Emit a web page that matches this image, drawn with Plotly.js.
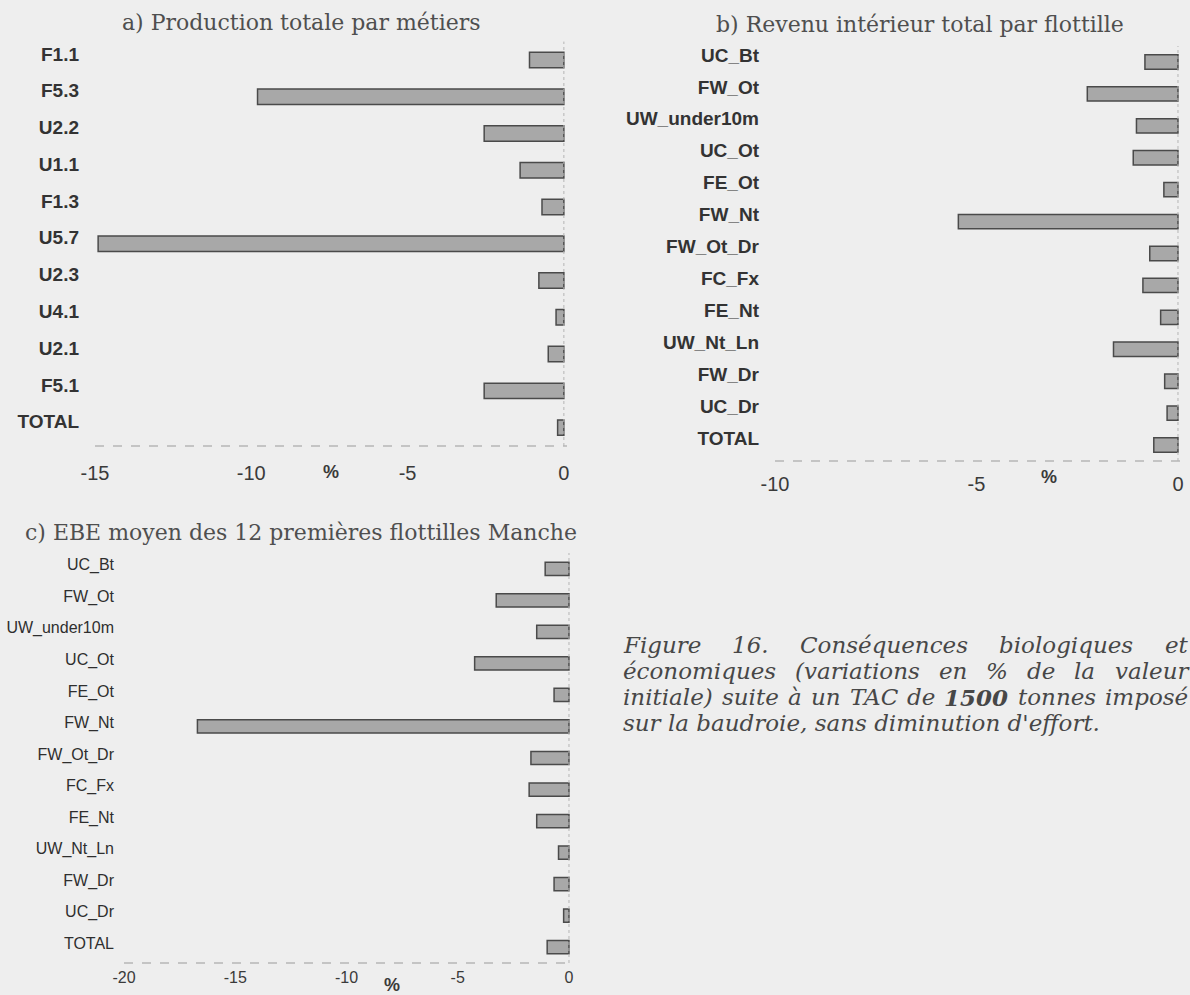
<!DOCTYPE html>
<html>
<head>
<meta charset="utf-8">
<script src="https://cdn.plot.ly/plotly-3.0.1.min.js"></script>
<style>html,body{margin:0;padding:0;background:#eeeeee;}#chart{width:1190px;height:995px;}</style>
</head>
<body>
<div id="chart"></div>
<script>
// ---- data ----
const titleA = 'a) Production totale par métiers';
const titleB = 'b) Revenu intérieur total par flottille';
const titleC = 'c) EBE moyen des 12 premières flottilles Manche';

const catA = ['F1.1','F5.3','U2.2','U1.1','F1.3','U5.7','U2.3','U4.1','U2.1','F5.1','TOTAL'];
const valA = [-1.1,-9.8,-2.55,-1.4,-0.7,-14.9,-0.8,-0.25,-0.5,-2.55,-0.2];

const catB = ['UC_Bt','FW_Ot','UW_under10m','UC_Ot','FE_Ot','FW_Nt','FW_Ot_Dr','FC_Fx','FE_Nt','UW_Nt_Ln','FW_Dr','UC_Dr','TOTAL'];
const valB = [-0.82,-2.25,-1.03,-1.11,-0.35,-5.45,-0.7,-0.87,-0.43,-1.6,-0.33,-0.27,-0.6];

const catC = ['UC_Bt','FW_Ot','UW_under10m','UC_Ot','FE_Ot','FW_Nt','FW_Ot_Dr','FC_Fx','FE_Nt','UW_Nt_Ln','FW_Dr','UC_Dr','TOTAL'];
const valC = [-1.07,-3.27,-1.45,-4.24,-0.67,-16.7,-1.71,-1.79,-1.45,-0.47,-0.67,-0.24,-0.98];

const ticksA = [-15,-10,-5,0];
const ticksB = [-10,-5,0];
const ticksC = [-20,-15,-10,-5,0];

const captionLines = [
  ['Figure','16.','Conséquences','biologiques','et'],
  ['économiques','(variations','en','%','de','la','valeur'],
  ['initiale)','suite','à','un','TAC','de','<b>1500</b>','tonnes','imposé'],
  ['sur la baudroie, sans diminution d\'effort.']
];

// ---- styling ----
const W = 1190, H = 995;
const BAR_FILL = '#a8a8a8', BAR_LINE = '#4a4a4a';
const LABEL_COLOR = '#333333', TITLE_COLOR = '#4f4f4f';
const px = v => v / W, py = v => 1 - v / H;

function barTrace(cats, vals, xa, ya, width) {
  return {
    type: 'bar', orientation: 'h', x: vals, y: cats, xaxis: xa, yaxis: ya,
    width: width, marker: {color: BAR_FILL, line: {color: BAR_LINE, width: 1.5}},
    hoverinfo: 'x+y', showlegend: false
  };
}

const data = [
  barTrace(catA, valA, 'x', 'y', 0.42),
  barTrace(catB, valB, 'x2', 'y2', 0.45),
  barTrace(catC, valC, 'x3', 'y3', 0.42)
];

const boldSans = {family: 'Liberation Sans, Arial, sans-serif', size: 19, color: LABEL_COLOR, weight: 'bold'};
const regSans = {family: 'Liberation Sans, Arial, sans-serif', size: 20, color: '#3a3a3a'};
const smallSans = {family: 'Liberation Sans, Arial, sans-serif', size: 16, color: '#2e2e2e'};
const smallTick = {family: 'Liberation Sans, Arial, sans-serif', size: 16, color: '#3a3a3a'};

function xAxis(dom, rng, ticks, font, standoff) {
  return {domain: dom, range: rng, tickvals: ticks, ticktext: ticks.map(String),
    showgrid: false, zeroline: false, showline: false, ticks: '', tickfont: font,
    ticklabelstandoff: standoff, fixedrange: true};
}
function yAxis(dom, cats, font, standoff, shift, anchor) {
  return {domain: dom, type: 'category', categoryarray: cats, range: [cats.length - 0.5, -0.5],
    showgrid: false, zeroline: false, showline: false, ticks: '', tickfont: font,
    ticklabelstandoff: standoff, ticklabelshift: shift, anchor: anchor, fixedrange: true};
}

const layout = {
  width: W, height: H,
  paper_bgcolor: '#eeeeee', plot_bgcolor: 'rgba(0,0,0,0)',
  margin: {l: 0, r: 0, t: 0, b: 0},
  showlegend: false,
  xaxis: xAxis([px(95), px(567)], [-15, 0.1], ticksA, regSans, 13),
  yaxis: yAxis([py(446), py(41.6)], catA, boldSans, 15, 6, 'x'),
  xaxis2: xAxis([px(775), px(1182)], [-10, 0.1], ticksB, regSans, 9),
  yaxis2: yAxis([py(461), py(46)], catB, boldSans, 15, 7, 'x2'),
  xaxis3: xAxis([px(124), px(571.2)], [-20, 0.1], ticksC, smallTick, 3),
  yaxis3: yAxis([py(963), py(553)], catC, smallSans, 9, 4, 'x3'),
  shapes: [],
  annotations: []
};
layout.xaxis.anchor = 'y'; layout.xaxis2.anchor = 'y2'; layout.xaxis3.anchor = 'y3';

// dashed baseline and dotted zero line for each panel
[['x','y'],['x2','y2'],['x3','y3']].forEach(([xa, ya]) => {
  layout.shapes.push({type: 'line', xref: xa + ' domain', yref: ya + ' domain', x0: 0, x1: 1, y0: 0, y1: 0,
    line: {color: '#9a9a9a', width: 1, dash: 'dash'}});
  layout.shapes.push({type: 'line', xref: xa, yref: ya + ' domain', x0: 0, x1: 0, y0: 0, y1: 1,
    line: {color: '#b5b5b5', width: 1, dash: 'dot'}});
});

// panel titles
const titleFont = {family: 'DejaVu Serif, serif', size: 22, color: TITLE_COLOR};
[[titleA, 301, 23], [titleB, 920, 25], [titleC, 301, 532]].forEach(([t, x, y]) => {
  layout.annotations.push({text: t, xref: 'paper', yref: 'paper', x: px(x), y: py(y),
    xanchor: 'center', yanchor: 'middle', showarrow: false, font: titleFont});
});

// "%" axis labels
const pctFont = {family: 'Liberation Sans, Arial, sans-serif', size: 18, color: '#3a3a3a', weight: 'bold'};
[['x','y', -7.45, 472], ['x2','y2', -3.2, 477], ['x3','y3', -7.95, 985]].forEach(([xa, ya, xv, yp]) => {
  layout.annotations.push({text: '%', xref: xa, yref: 'paper', x: xv, y: py(yp),
    xanchor: 'center', yanchor: 'middle', showarrow: false, font: pctFont});
});

// caption (justified italic text)
const capSize = 23, capLeft = 622, capRight = 1187;
const capY = [645, 671, 697, 723];
const cvs = document.createElement('canvas').getContext('2d');
function measure(w) {
  const bold = w.indexOf('<b>') >= 0;
  cvs.font = 'italic ' + (bold ? 'bold ' : '') + capSize + 'px "DejaVu Serif"';
  return cvs.measureText(w.replace(/<\/?b>/g, '')).width;
}
const capFont = {family: 'DejaVu Serif, serif', size: capSize, color: '#474747', style: 'italic'};
captionLines.forEach((words, i) => {
  const widths = words.map(measure);
  const total = widths.reduce((a, b) => a + b, 0);
  const gap = words.length > 1 ? (capRight - capLeft - total) / (words.length - 1) : 0;
  let x = capLeft;
  words.forEach((w, j) => {
    layout.annotations.push({text: w, xref: 'paper', yref: 'paper', x: px(x), y: py(capY[i]),
      xanchor: 'left', yanchor: 'middle', showarrow: false, font: capFont, borderpad: 0});
    x += widths[j] + gap;
  });
});

Plotly.newPlot('chart', data, layout, {displayModeBar: false, staticPlot: true});
</script>
</body>
</html>
